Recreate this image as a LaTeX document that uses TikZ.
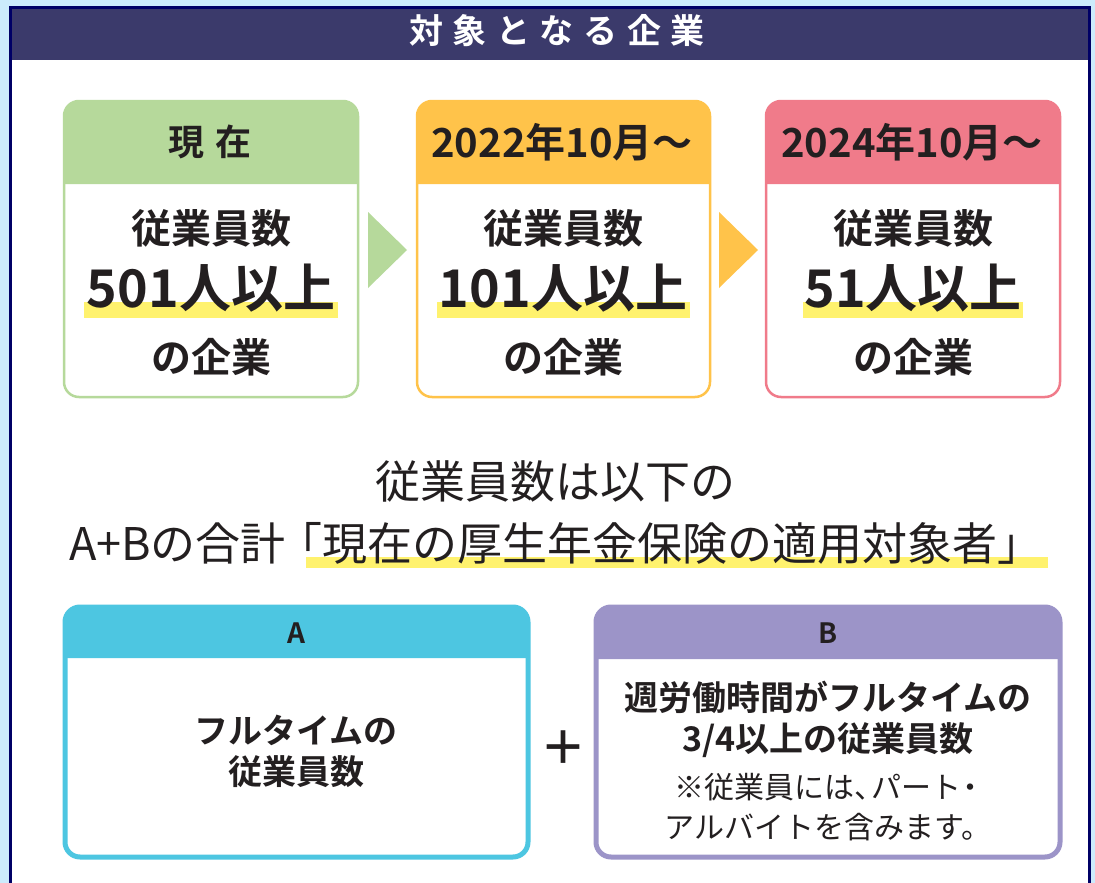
\documentclass[tikz,border=0pt]{standalone}
\usepackage{fontspec}
\setmainfont{Noto Sans CJK JP}[BoldFont={Noto Sans CJK JP Bold}]
\definecolor{bg}{HTML}{CCEBFC}
\definecolor{navy}{HTML}{000066}
\definecolor{band}{HTML}{3B3A6B}
\definecolor{ink}{HTML}{231F20}
\definecolor{grn}{HTML}{B6D99B}
\definecolor{org}{HTML}{FFC34A}
\definecolor{pnk}{HTML}{F07B8A}
\definecolor{cyn}{HTML}{4DC6E1}
\definecolor{pur}{HTML}{9C94C8}
\definecolor{hl}{HTML}{FFF26E}
\newcommand\panelbox[7]{%
  \fill[white,rounded corners=15] (#1,#2) rectangle (#3,#4);
  \fill[#6] (#1,#5) [rounded corners=15] -- (#1,#2) -- (#3,#2) [sharp corners] -- (#3,#5) -- cycle;
  \draw[#6,line width=#7,rounded corners=15] (#1,#2) rectangle (#3,#4);
}
\tikzset{
  btxt/.style={inner sep=0pt, text=ink, font=\bfseries\fontsize{#1}{#1}\selectfont},
  rtxt/.style={inner sep=0pt, text=ink, font=\fontsize{#1}{#1}\selectfont},
  hilite/.style={fill=hl},
  tri/.style={fill=#1},
}
\begin{document}
\begin{tikzpicture}[x=1pt,y=-1pt]
\useasboundingbox (0,0) rectangle (1095,883);
\fill[bg] (0,0) rectangle (1095,883);
\fill[white] (10,7) rectangle (1090,890);
\fill[band] (10,8) rectangle (1090,60);
\draw[navy,line width=3] (10.5,890) -- (10.5,7.5) -- (1089.5,7.5) -- (1089.5,890);
\node[btxt=34,text=white] (title) at (557,31) {対\kern9.5pt 象\kern9.5pt と\kern9.5pt な\kern9.5pt る\kern9.5pt 企\kern9.5pt 業};

% top row panels
\panelbox{64}{101}{358}{397}{184}{grn}{2.5}
\panelbox{417}{101}{710}{397}{184}{org}{2.5}
\panelbox{766}{101}{1060}{397}{184}{pnk}{2.5}

\fill[tri=grn] (368,212) -- (407,250) -- (368,288) -- cycle;
\fill[tri=org] (719,212) -- (758,250) -- (719,288) -- cycle;

\fill[hilite] (84,302) rectangle (338,318);
\fill[hilite] (437,302) rectangle (690,318);
\fill[hilite] (803,302) rectangle (1023,318);

\node[btxt=36] (h1) at (210,142) {現\kern12pt 在};
\node[btxt=40] (h2) at (562,142) {2022年10月〜};
\node[btxt=40] (h3) at (912,142) {2024年10月〜};

\node[btxt=40] (a1) at (211,228) {従業員数};
\node[btxt=40] (a2) at (563,228) {従業員数};
\node[btxt=40] (a3) at (913,228) {従業員数};
\node[btxt=52] (b1) at (211,288) {501人以上};
\node[btxt=52] (b2) at (563,288) {101人以上};
\node[btxt=52] (b3) at (913,288) {51人以上};
\node[btxt=40] (c1) at (211,357) {の企業};
\node[btxt=40] (c2) at (563,357) {の企業};
\node[btxt=40] (c3) at (913,357) {の企業};

% middle text
\fill[hilite] (306,557) rectangle (1048,568);
\node[rtxt=45] (m1) at (555,481) {従業員数は以下の};
\node[rtxt=45] (m2) at (556,543) {A+Bの合計\kern-8pt「現在の厚生年金保険の適用対象者」};

% bottom panels
\panelbox{65}{607}{528}{857}{658}{cyn}{5}
\panelbox{596}{607}{1060}{857}{659}{pur}{5}
\node[btxt=28] (la) at (296,633) {A};
\node[btxt=28] (lb) at (828,633) {B};
\node[btxt=34] (ta1) at (296,730) {フルタイムの};
\node[btxt=34] (ta2) at (296,772) {従業員数};
\node[btxt=46] (plus) at (563,748) {＋};
\node[btxt=34] (tb1) at (828,697) {週労働時間がフルタイムの};
\node[btxt=34] (tb2) at (828,740) {3/4以上の従業員数};
\node[rtxt=30] (tb3) at (830,787) {※従業員には、\kern-13pt パート\kern-6pt ・};
\node[rtxt=30] (tb4) at (828,827) {アルバイトを含みます。};
\end{tikzpicture}
\end{document}
